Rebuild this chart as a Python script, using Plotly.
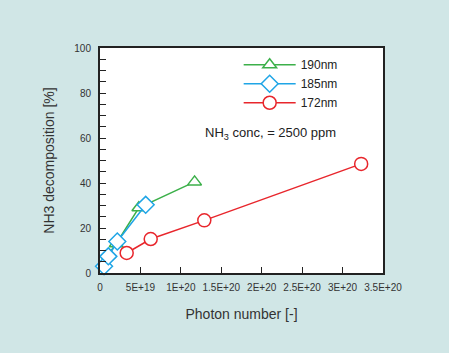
import plotly.graph_objects as go

x190 = [0.5e19, 1.0e19, 2.0e19, 4.8e19, 1.17e20]
y190 = [4, 8, 13, 29, 40.5]
x185 = [0.5e19, 1.03e19, 2.14e19, 5.65e19]
y185 = [3, 7.4, 14, 30.3]
x172 = [3.3e19, 6.27e19, 1.29e20, 3.23e20]
y172 = [8.9, 15.1, 23.4, 48.5]

xticks = [0, 5e19, 1e20, 1.5e20, 2e20, 2.5e20, 3e20, 3.5e20]
xlabels = ["0", "5E+19", "1E+20", "1.5E+20", "2E+20", "2.5E+20", "3E+20", "3.5E+20"]
yticks = [0, 20, 40, 60, 80, 100]

BG = "#d0e6e6"
FONT = "Liberation Sans, Arial, sans-serif"

fig = go.Figure()
series = [
    ("190nm", x190, y190, "#3cb04a", "triangle-up", 12),
    ("185nm", x185, y185, "#1fa5e6", "diamond", 13),
    ("172nm", x172, y172, "#e8262c", "circle", 13),
]
for name, xs, ys, col, sym, sz in series:
    fig.add_trace(go.Scatter(
        x=xs, y=ys, name=name, mode="lines+markers",
        line=dict(color=col, width=1.5),
        marker=dict(symbol=sym, size=sz, color="white",
                    line=dict(color=col, width=1.5)),
        cliponaxis=False,
    ))

fig.add_annotation(x=0.604, y=0.62, xref="paper", yref="paper",
                   text="NH<sub>3</sub> conc, = 2500 ppm", showarrow=False,
                   font=dict(size=13, color="#222", family=FONT), xanchor="center")

fig.update_layout(
    width=449, height=353,
    margin=dict(l=100, r=66, t=48, b=80),
    paper_bgcolor=BG, plot_bgcolor="white",
    font=dict(family=FONT, color="#333"),
    showlegend=True,
    legend=dict(x=0.49, y=0.99, xanchor="left", yanchor="top",
                bgcolor="rgba(0,0,0,0)", itemwidth=52,
                font=dict(size=12, color="#222"), tracegroupgap=0),
    xaxis=dict(range=[0, 3.5e20], tickvals=xticks, ticktext=xlabels,
               ticks="inside", ticklen=6, tickcolor="#222", tickwidth=1,
               showgrid=False, zeroline=False, showline=True, linecolor="#222",
               linewidth=2, mirror=True, tickfont=dict(size=10, color="#333"),
               ticklabelstandoff=4,
               title=dict(text="Photon number [-]", font=dict(size=14, color="#333"), standoff=17)),
    yaxis=dict(range=[0, 100], tickvals=yticks,
               ticks="inside", ticklen=6, tickcolor="#222", tickwidth=1,
               minor=dict(tickvals=list(range(0, 101, 5)), ticks="inside", ticklen=6,
                          tickcolor="#222", tickwidth=1),
               showgrid=False, zeroline=False, showline=True, linecolor="#222",
               linewidth=2, mirror=True, tickfont=dict(size=10, color="#333"),
               ticklabelstandoff=5,
               title=dict(text="NH3 decomposition [%]", font=dict(size=14, color="#333"), standoff=16)),
)

fig.write_html("out.html")
